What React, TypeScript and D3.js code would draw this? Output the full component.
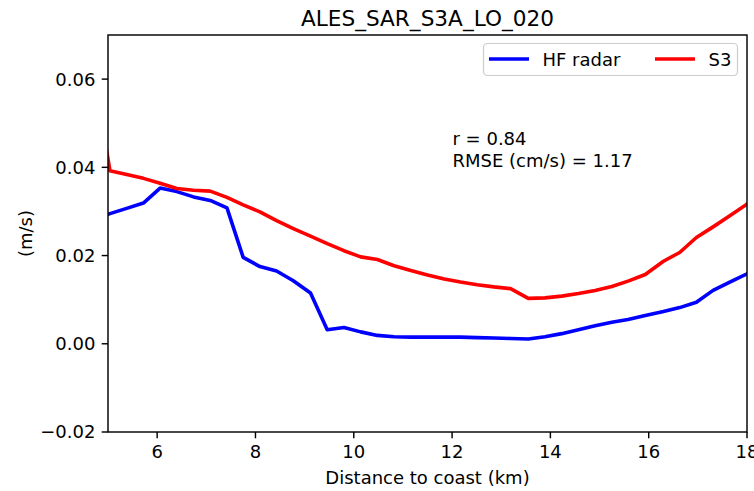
import React from "react";
import * as d3 from "d3";

const distanceKm = [4.70, 5.04, 5.38, 5.72, 6.06, 6.40, 6.74, 7.08, 7.42, 7.75, 8.09, 8.43, 8.77, 9.12, 9.46, 9.80, 10.14, 10.48, 10.82, 11.16, 11.50, 11.84, 12.17, 12.51, 12.85, 13.19, 13.55, 13.89, 14.23, 14.57, 14.91, 15.25, 15.58, 15.93, 16.30, 16.63, 16.97, 17.31, 17.65, 17.99, 18.33];
const hfRadar = [0.0280, 0.0295, 0.0307, 0.0319, 0.0353, 0.0345, 0.0333, 0.0325, 0.0308, 0.0196, 0.0175, 0.0165, 0.0143, 0.0115, 0.0032, 0.0037, 0.0027, 0.0019, 0.0016, 0.0015, 0.0015, 0.0015, 0.0015, 0.0014, 0.0013, 0.0012, 0.0011, 0.0016, 0.0023, 0.0032, 0.0041, 0.0049, 0.0055, 0.0064, 0.0073, 0.0082, 0.0094, 0.0121, 0.0140, 0.0158, 0.0178];
const s3 = [0.0620, 0.0392, 0.0384, 0.0375, 0.0364, 0.0352, 0.0348, 0.0346, 0.0332, 0.0315, 0.0299, 0.0279, 0.0261, 0.0244, 0.0227, 0.0211, 0.0197, 0.0191, 0.0177, 0.0166, 0.0156, 0.0147, 0.0140, 0.0134, 0.0129, 0.0125, 0.0103, 0.0104, 0.0108, 0.0114, 0.0121, 0.0130, 0.0142, 0.0157, 0.0187, 0.0207, 0.0241, 0.0265, 0.0290, 0.0316, 0.0340];
const xTicks = [6, 8, 10, 12, 14, 16, 18];
const yTicks = [-0.02, 0, 0.02, 0.04, 0.06];
const seriesNames = ["HF radar", "S3"];
const seriesColors = ["#0000ff", "#ff0000"];
const titleText = "ALES_SAR_S3A_LO_020";
const xLabel = "Distance to coast (km)";
const yLabel = "(m/s)";
const statsLines = ["r = 0.84", "RMSE (cm/s) = 1.17"];

const W = 754, H = 491;
const L = 108, R = 747, T = 35, B = 432;
const FONT = "DejaVu Sans, sans-serif";

export default function App() {
  const x = d3.scaleLinear().domain([5, 18]).range([L, R]);
  const y = d3.scaleLinear().domain([-0.02, 0.07]).range([B, T]);
  const line = d3.line<number>().x((_, i) => x(distanceKm[i])).y((d) => y(d));
  const series = [hfRadar, s3];
  return (
    <svg width={W} height={H} style={{ position: "absolute", left: 0, top: 0, background: "#fff" }} fontFamily={FONT}>
      <defs>
        <clipPath id="plotclip">
          <rect x={L} y={T} width={R - L} height={B - T} />
        </clipPath>
      </defs>
      <rect x={0} y={0} width={W} height={H} fill="#fff" />
      <g clipPath="url(#plotclip)">
        {series.map((s, i) => (
          <path key={i} d={line(s) || ""} fill="none" stroke={seriesColors[i]} strokeWidth={3.6} strokeLinejoin="round" strokeLinecap="square" />
        ))}
      </g>
      <rect x={L} y={T} width={R - L} height={B - T} fill="none" stroke="#000" strokeWidth={1.44} />
      {xTicks.map((t) => (
        <g key={t}>
          <line x1={x(t)} x2={x(t)} y1={B} y2={B + 6.3} stroke="#000" strokeWidth={1.44} />
          <text x={x(t)} y={B + 12.6} dy="0.76em" textAnchor="middle" fontSize={18} fill="#000">{t}</text>
        </g>
      ))}
      {yTicks.map((t) => (
        <g key={t}>
          <line x1={L - 6.3} x2={L} y1={y(t)} y2={y(t)} stroke="#000" strokeWidth={1.44} />
          <text x={L - 12.6} y={y(t)} dy="0.36em" textAnchor="end" fontSize={18} fill="#000">{d3.format(".2f")(t).replace("-", "\u2212")}</text>
        </g>
      ))}
      <text x={(L + R) / 2} y={26} textAnchor="middle" fontSize={21.6} fill="#000">{titleText}</text>
      <text x={(L + R) / 2} y={484} textAnchor="middle" fontSize={18} fill="#000">{xLabel}</text>
      <text transform={`translate(32,${(T + B) / 2}) rotate(-90)`} textAnchor="middle" fontSize={18} fill="#000">{yLabel}</text>
      <g>
        <rect x={483.5} y={43.5} width={254} height={32} rx={4} fill="#fff" fillOpacity={0.8} stroke="#cccccc" strokeWidth={1.2} />
        {seriesNames.map((n, i) => {
          const x0 = i === 0 ? 489 : 655;
          return (
            <g key={n}>
              <line x1={x0} x2={x0 + 40} y1={59} y2={59} stroke={seriesColors[i]} strokeWidth={3.6} />
              <text x={x0 + 53.5} y={65.5} fontSize={18} fill="#000">{n}</text>
            </g>
          );
        })}
      </g>
      {statsLines.map((s, i) => (
        <text key={i} x={452.5} y={145 + i * 22} fontSize={18} fill="#000">{s}</text>
      ))}
    </svg>
  );
}
